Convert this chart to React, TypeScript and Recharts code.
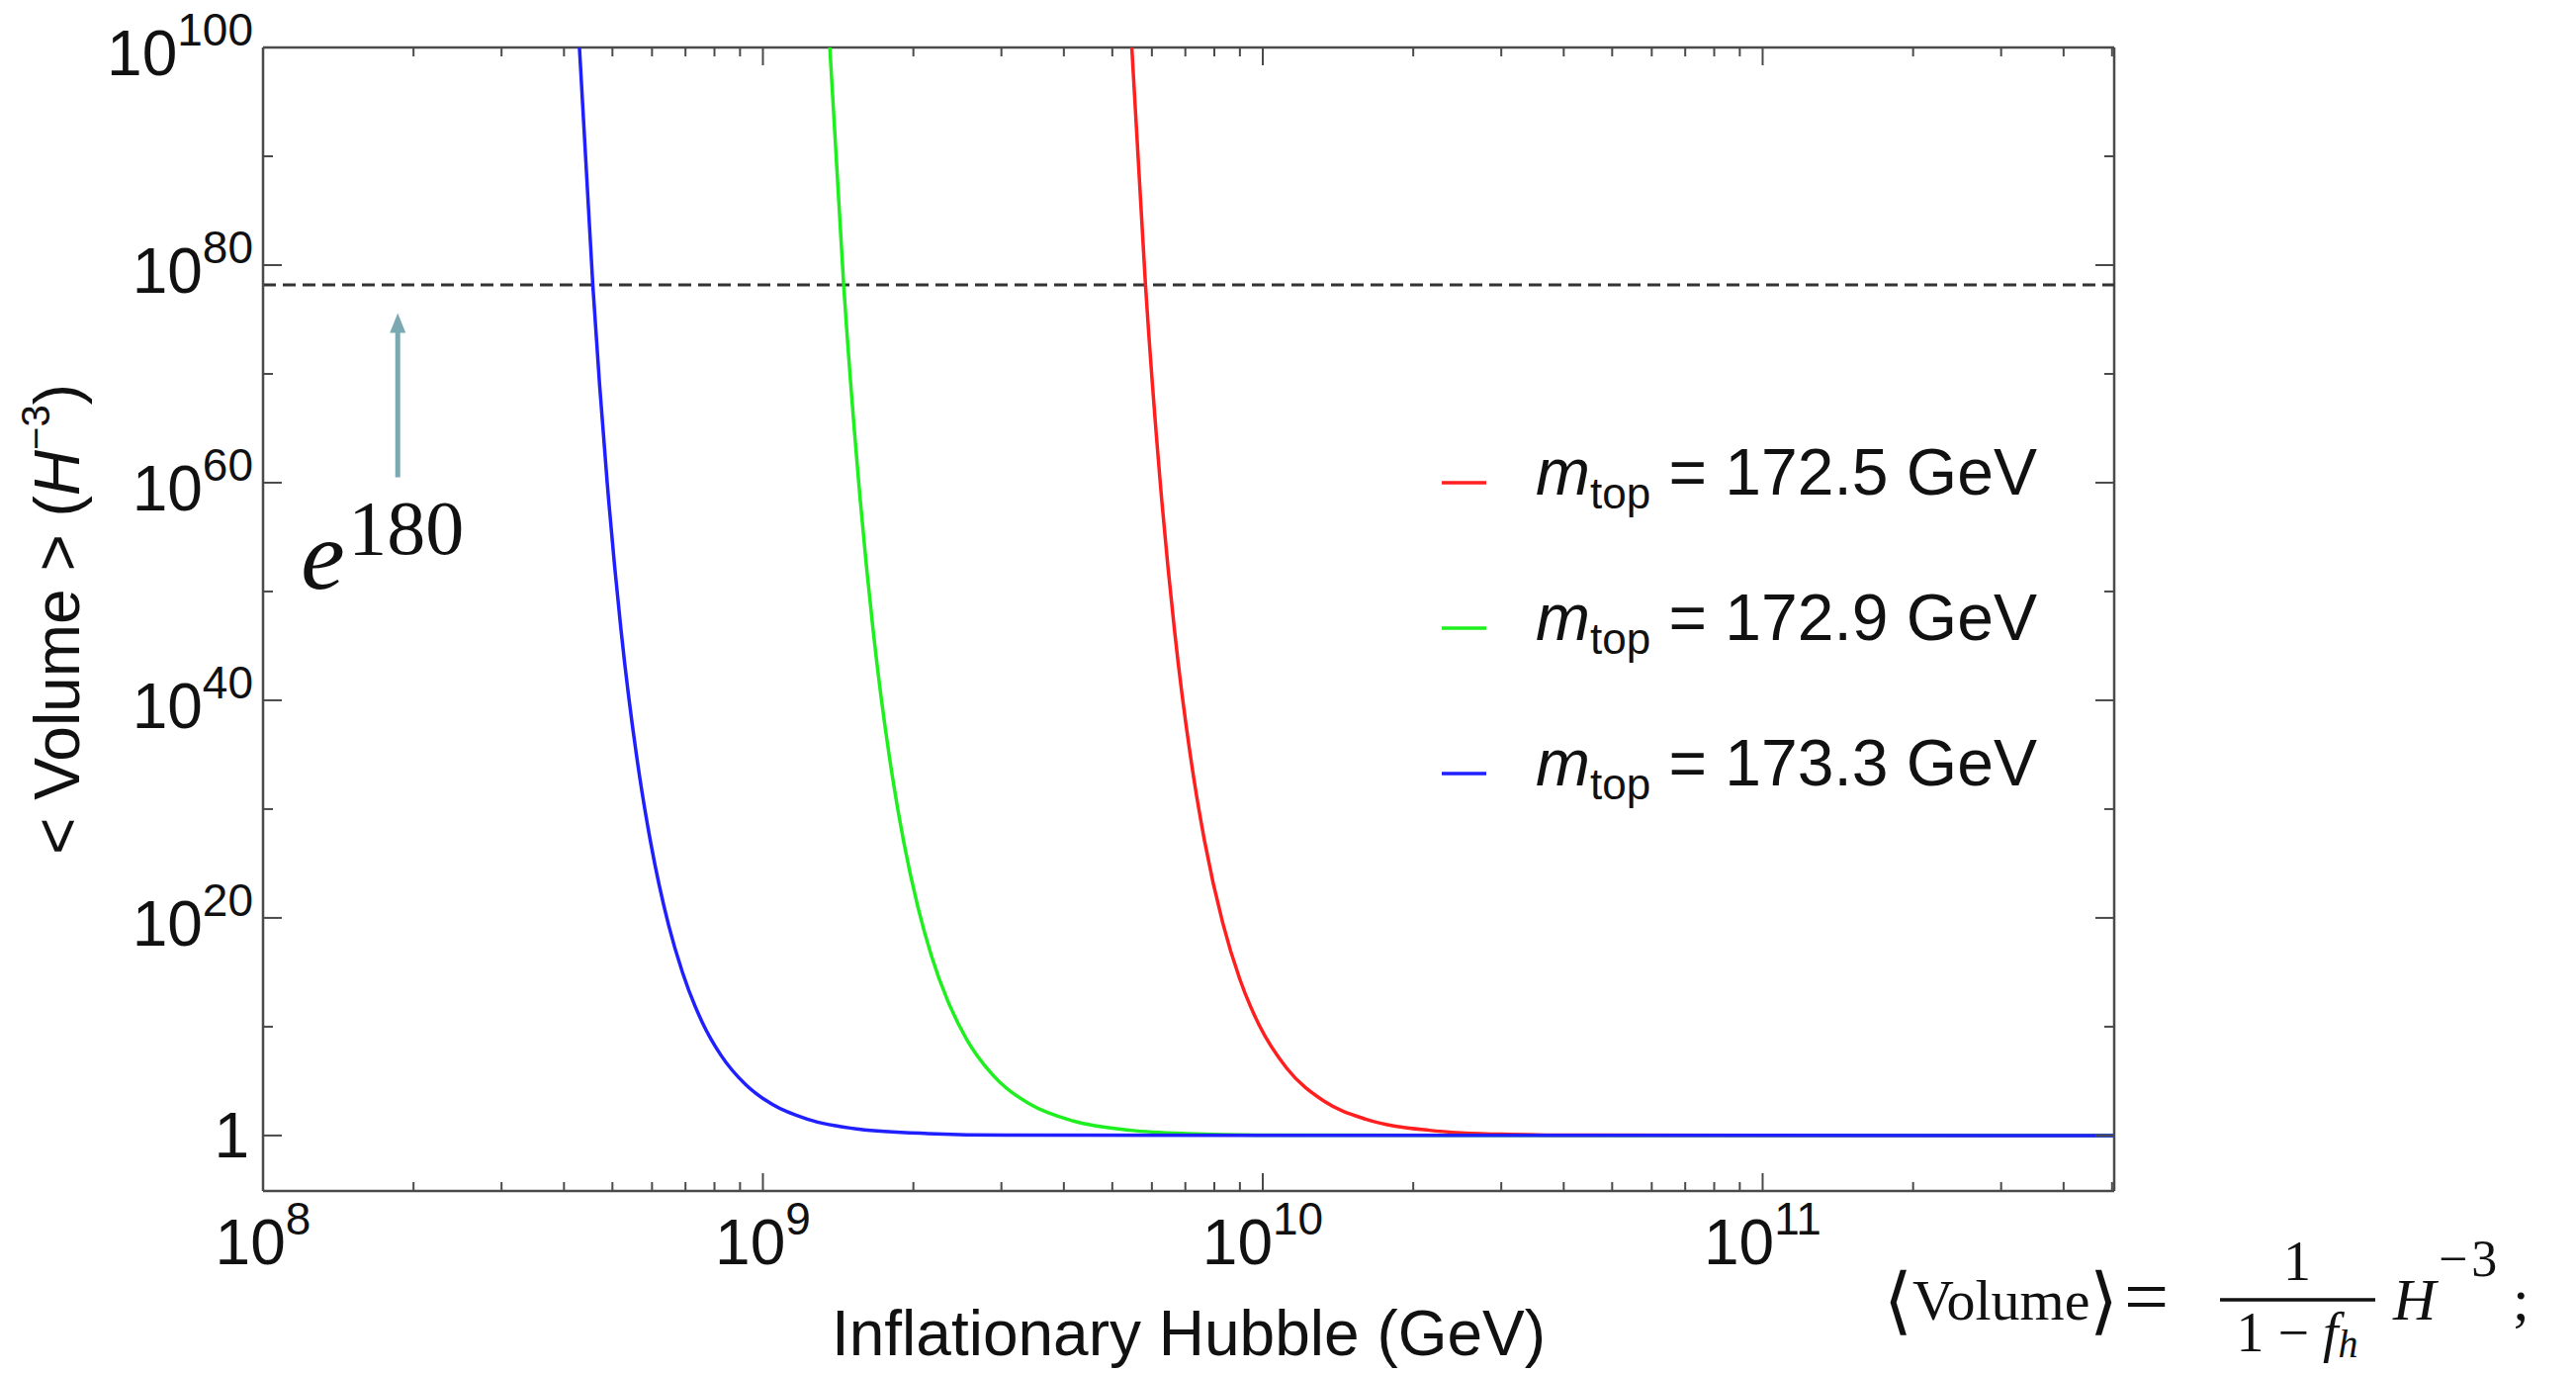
import React from "react";
import { Legend, Line, LineChart, ReferenceLine, XAxis, YAxis } from "recharts";

// top-quark masses (GeV), one curve each
const MASSES = ["172.5", "172.9", "173.3"];
const COLORS = ["#ff1f1f", "#1fee1f", "#1f1fff"];

// Inflationary Hubble H (GeV) and log10 <Volume>
const RED_H = [5.47e9, 5.827e9, 6.236e9, 6.657e9, 7.274e9, 7.646e9, 8.32e9, 8.991e9, 9.846e9, 1.116e10, 1.327e10, 1.612e10, 2.151e10, 3.006e10, 4.467e10, 5.05e11];
const RED_LOGV = [100, 78.1, 60, 46.5, 32.9, 27.1, 19.5, 14.4, 10.1, 6.2, 3.15, 1.48, 0.48, 0.12, 0.03, 0];

const GREEN_H = [1.361e9, 1.451e9, 1.555e9, 1.661e9, 1.817e9, 1.911e9, 2.042e9, 2.174e9, 2.337e9, 2.552e9, 2.882e9, 3.431e9, 4.181e9, 5.449e9, 7.029e9, 1.023e10, 5.05e11];
const GREEN_LOGV = [100, 78.1, 60, 46.5, 32.9, 27.1, 21.0, 16.5, 12.5, 8.9, 5.57, 2.85, 1.33, 0.48, 0.18, 0.04, 0];

const BLUE_H = [4.295e8, 4.569e8, 4.881e8, 5.201e8, 5.671e8, 5.954e8, 6.48e8, 6.906e8, 7.558e8, 8.239e8, 9.24e8, 1.045e9, 1.231e9, 1.557e9, 2.138e9, 3.162e9, 5.05e11];
const BLUE_LOGV = [100, 78.1, 60, 46.5, 32.9, 27.1, 19.3, 14.97, 10.43, 7.39, 4.67, 2.85, 1.48, 0.58, 0.18, 0.03, 0];

// axes
const X_MIN = 1e8;
const X_MAX = 5.05e11;
const Y_MIN = 10 ** -5.1;
const Y_MAX = 1e100;
const X_DECADES = [8, 9, 10, 11];
const X_MINOR_MULT = [2, 3, 4, 5, 6, 7, 8, 9];
const Y_MAJOR_EXP = [0, 20, 40, 60, 80, 100];
const Y_MINOR_EXP = [10, 30, 50, 70, 90];

// e^180 threshold and the arrow pointing at it
const THRESHOLD = Math.exp(180);
const ARROW_H = 1.86e8;
const ARROW_FROM = 10 ** 60.5;
const ARROW_TO = 10 ** 75.6;

const W = 2605;
const H = 1388;
const PLOT_W = 2138 - 266;
const PLOT_H = 1204 - 48;

const SANS = "'Liberation Sans', Arial, Helvetica, sans-serif";
const SERIF = "'Liberation Serif', 'Times New Roman', serif";
const FRAME = "#4a4a4a";
const INK = "#111";
const ARROW_COLOR = "#7aa9b1";

const toRows = (hs: number[], logv: number[]) => hs.map((h, i) => ({ h, v: 10 ** logv[i] }));
const SERIES = [toRows(RED_H, RED_LOGV), toRows(GREEN_H, GREEN_LOGV), toRows(BLUE_H, BLUE_LOGV)];

const X_TICKS = X_DECADES.flatMap((d) => [1, ...X_MINOR_MULT].map((m) => m * 10 ** d)).filter(
  (v) => v <= X_MAX
);
const Y_TICKS = [...Y_MAJOR_EXP, ...Y_MINOR_EXP].sort((a, b) => a - b).map((e) => 10 ** e);

function XTick({ x, y, payload }: any) {
  const v = payload.value;
  const e = Math.floor(Math.log10(v) + 1e-9);
  const major = Math.abs(v / 10 ** e - 1) < 1e-6;
  const len = major ? 18 : 9;
  return (
    <g>
      <line x1={x} y1={y} x2={x} y2={y - len} stroke={FRAME} strokeWidth={2} />
      <line x1={x} y1={y - PLOT_H} x2={x} y2={y - PLOT_H + len} stroke={FRAME} strokeWidth={2} />
      {major && (
        <text x={x} y={y + 74} textAnchor="middle" fontFamily={SANS} fontSize={64} fill={INK}>
          10
          <tspan dy={-30} fontSize={46}>
            {e}
          </tspan>
        </text>
      )}
    </g>
  );
}

function YTick({ x, y, payload }: any) {
  const e = Math.round(Math.log10(payload.value));
  const major = e % 20 === 0;
  const len = major ? 19 : 10;
  return (
    <g>
      <line x1={x} y1={y} x2={x + len} y2={y} stroke={FRAME} strokeWidth={2} />
      <line x1={x + PLOT_W} y1={y} x2={x + PLOT_W - len} y2={y} stroke={FRAME} strokeWidth={2} />
      {major && e === 0 && (
        <text x={x - 14} y={y + 22} textAnchor="end" fontFamily={SANS} fontSize={64} fill={INK}>
          1
        </text>
      )}
      {major && e !== 0 && (
        <text x={x - 10} y={y + 28} textAnchor="end" fontFamily={SANS} fontSize={64} fill={INK}>
          10
          <tspan dy={-30} fontSize={46}>
            {e}
          </tspan>
        </text>
      )}
    </g>
  );
}

function XTitle({ viewBox }: any) {
  return (
    <text
      x={viewBox.x + viewBox.width / 2}
      y={viewBox.y + 166}
      textAnchor="middle"
      fontFamily={SANS}
      fontSize={64}
      fill={INK}
    >
      Inflationary Hubble (GeV)
    </text>
  );
}

function YTitle({ viewBox }: any) {
  const cx = 58;
  const cy = viewBox.y + viewBox.height / 2;
  return (
    <text
      x={cx}
      y={cy}
      transform={`rotate(-90, ${cx}, ${cy})`}
      textAnchor="middle"
      dominantBaseline="central"
      fontFamily={SANS}
      fontSize={64}
      fill={INK}
    >
      {"< Volume > ("}
      <tspan fontStyle="italic">H</tspan>
      <tspan dy={-22} fontSize={40}>
        −3
      </tspan>
      <tspan dy={22}>)</tspan>
    </text>
  );
}

function ArrowShape({ x1, y1, x2, y2 }: any) {
  return (
    <g>
      <line x1={x1} y1={y1} x2={x2} y2={y2 + 18} stroke={ARROW_COLOR} strokeWidth={5} />
      <polygon points={`${x2},${y2} ${x2 - 8},${y2 + 20} ${x2 + 8},${y2 + 20}`} fill={ARROW_COLOR} />
      <text x={x1 - 98} y={y1 + 113} fontFamily={SERIF} fontStyle="italic" fontSize={100} fill={INK}>
        e
      </text>
      <text x={x1 - 50} y={y1 + 78} fontFamily={SERIF} fontSize={78} fill={INK}>
        180
      </text>
    </g>
  );
}

function LegendBox({ payload }: any) {
  const items = payload ?? [];
  return (
    <svg width={700} height={420} style={{ overflow: "visible" }}>
      {items.map((it: any, i: number) => (
        <g key={i}>
          <line x1={18} x2={63} y1={88 + i * 147} y2={88 + i * 147} stroke={it.color} strokeWidth={3.5} />
          <text x={113} y={100 + i * 147} fontFamily={SANS} fontSize={66} fill={INK}>
            <tspan fontStyle="italic">m</tspan>
            <tspan fontSize={44} dy={14}>
              top
            </tspan>
            <tspan dy={-14}>{` = ${it.value} GeV`}</tspan>
          </text>
        </g>
      ))}
    </svg>
  );
}

function Formula() {
  return (
    <svg
      width={W}
      height={H}
      style={{ position: "absolute", left: 0, top: 0, pointerEvents: "none" }}
      fontFamily={SERIF}
      fill={INK}
    >
      <text x={1905} y={1334} fontSize={58}>
        <tspan fontSize={74} dy={6}>
          ⟨
        </tspan>
        <tspan dy={-6}>Volume</tspan>
        <tspan fontSize={74} dy={6}>
          ⟩
        </tspan>
      </text>
      <text x={2148} y={1338} fontSize={80}>
        =
      </text>
      <text x={2323} y={1294} fontSize={56} textAnchor="middle">
        1
      </text>
      <line x1={2245} x2={2402} y1={1314} y2={1314} stroke={INK} strokeWidth={3.5} />
      <text x={2323} y={1366} fontSize={56} textAnchor="middle">
        1
        <tspan dx={14}>−</tspan>
        <tspan dx={14} fontStyle="italic">
          f
        </tspan>
        <tspan fontStyle="italic" fontSize={40} dy={6}>
          h
        </tspan>
      </text>
      <text x={2420} y={1334} fontSize={60} fontStyle="italic">
        H
      </text>
      <text x={2466} y={1290} fontSize={52}>
        −<tspan dx={4}>3</tspan>
      </text>
      <text x={2541} y={1334} fontSize={60}>
        ;
      </text>
    </svg>
  );
}

export default function App() {
  return (
    <div style={{ position: "absolute", left: 0, top: 0, width: W, height: H, background: "#fff" }}>
      <LineChart width={W} height={H} margin={{ top: 48, right: 467, bottom: 84, left: 66 }}>
        <XAxis
          dataKey="h"
          type="number"
          scale="log"
          domain={[X_MIN, X_MAX]}
          allowDataOverflow
          ticks={X_TICKS}
          interval={0}
          height={100}
          tickSize={0}
          tickMargin={0}
          tickLine={false}
          axisLine={{ stroke: FRAME, strokeWidth: 2.5 }}
          tick={(p: any) => <XTick {...p} />}
          label={(p: any) => <XTitle {...p} />}
        />
        <YAxis
          dataKey="v"
          type="number"
          scale="log"
          domain={[Y_MIN, Y_MAX]}
          allowDataOverflow
          ticks={Y_TICKS}
          interval={0}
          width={200}
          tickSize={0}
          tickMargin={0}
          tickLine={false}
          axisLine={{ stroke: FRAME, strokeWidth: 2.5 }}
          tick={(p: any) => <YTick {...p} />}
          label={(p: any) => <YTitle {...p} />}
        />
        <ReferenceLine y={Y_MAX} stroke={FRAME} strokeWidth={2.5} ifOverflow="visible" />
        <ReferenceLine x={X_MAX} stroke={FRAME} strokeWidth={2.5} ifOverflow="visible" />
        <ReferenceLine
          y={THRESHOLD}
          stroke="#333"
          strokeWidth={3}
          strokeDasharray="13 7"
          ifOverflow="visible"
        />
        <ReferenceLine
          segment={[
            { x: ARROW_H, y: ARROW_FROM },
            { x: ARROW_H, y: ARROW_TO },
          ]}
          ifOverflow="visible"
          shape={(p: any) => <ArrowShape {...p} />}
        />
        {SERIES.map((rows, i) => (
          <Line
            key={MASSES[i]}
            data={rows}
            dataKey="v"
            name={MASSES[i]}
            type="monotone"
            stroke={COLORS[i]}
            strokeWidth={3.5}
            dot={false}
            activeDot={false}
            isAnimationActive={false}
          />
        ))}
        <Legend
          layout="vertical"
          align="center"
          verticalAlign="middle"
          wrapperStyle={{ position: "absolute", left: 1440, top: 400, width: 700, height: 420 }}
          content={(p: any) => <LegendBox payload={p.payload} />}
        />
      </LineChart>
      <Formula />
    </div>
  );
}
